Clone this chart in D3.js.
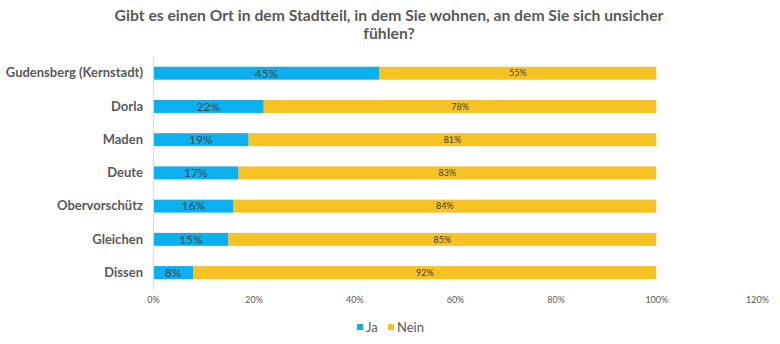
<!DOCTYPE html>
<html>
<head>
<meta charset="utf-8">
<script src="https://cdn.jsdelivr.net/npm/d3@7"></script>
<style>
  body { margin: 0; background: #fff; }
  svg text { font-family: Lato, "Open Sans", sans-serif; }
</style>
</head>
<body>
<div id="chart"></div>
<script>
// data
var categories = ["Gudensberg (Kernstadt)", "Dorla", "Maden", "Deute", "Obervorschütz", "Gleichen", "Dissen"];
var ja = [45, 22, 19, 17, 16, 15, 8];
var nein = [55, 78, 81, 83, 84, 85, 92];
var xTicks = [0, 20, 40, 60, 80, 100, 120];
var seriesNames = ["Ja", "Nein"];
var seriesColors = ["#0db0ee", "#f6c224"];
var titleLines = ["Gibt es einen Ort in dem Stadtteil, in dem Sie wohnen, an dem Sie sich unsicher", "fühlen?"];

function init() {
    var width = 780, height = 344;
    var grey = "#595959";

    var svg = d3.select("#chart")
        .append("svg")
        .attr("width", width)
        .attr("height", height);

    // title (two lines)
    svg.append("g").selectAll("text")
        .data(titleLines)
        .enter()
        .append("text")
        .attr("x", 389)
        .attr("y", (d, i) => 20.5 + i * 18.8)
        .attr("text-anchor", "middle")
        .style("font-size", "15.7px")
        .style("font-weight", "bold")
        .style("fill", grey)
        .text(d => d);

    var xScale = d3.scaleLinear()
        .domain([0, 120])
        .range([153, 757]);

    var yScale = d3.scaleBand()
        .domain(categories)
        .range([56.6, 289.2])
        .paddingInner(0.61)
        .paddingOuter(0.305);

    var rows = categories.map((c, i) => ({ cat: c, ja: ja[i], nein: nein[i] }));

    // Ja bars
    svg.append("g").selectAll("rect")
        .data(rows)
        .enter()
        .append("rect")
        .attr("x", xScale(0))
        .attr("y", d => yScale(d.cat))
        .attr("width", d => xScale(d.ja) - xScale(0))
        .attr("height", yScale.bandwidth())
        .style("fill", seriesColors[0]);

    // Nein bars
    svg.append("g").selectAll("rect")
        .data(rows)
        .enter()
        .append("rect")
        .attr("x", d => xScale(d.ja))
        .attr("y", d => yScale(d.cat))
        .attr("width", d => xScale(d.ja + d.nein) - xScale(d.ja))
        .attr("height", yScale.bandwidth())
        .style("fill", seriesColors[1]);

    // data labels
    svg.append("g").selectAll("text")
        .data(rows)
        .enter()
        .append("text")
        .attr("x", d => xScale(d.ja / 2))
        .attr("y", d => yScale(d.cat) + yScale.bandwidth() / 2)
        .attr("dy", "0.36em")
        .attr("text-anchor", "middle")
        .style("font-size", "12px")
        .style("fill", "#404040")
        .text(d => d.ja + "%");

    svg.append("g").selectAll("text")
        .data(rows)
        .enter()
        .append("text")
        .attr("x", d => xScale(d.ja + d.nein / 2))
        .attr("y", d => yScale(d.cat) + yScale.bandwidth() / 2)
        .attr("dy", "0.36em")
        .attr("text-anchor", "middle")
        .style("font-size", "9px")
        .style("fill", "#404040")
        .text(d => d.nein + "%");

    // y axis: thin line and category names
    var yAxis = svg.append("g")
        .attr("transform", `translate(${xScale(0)},0)`)
        .call(d3.axisLeft(yScale).tickSize(0).tickPadding(10));
    yAxis.select(".domain").attr("stroke", "#d9d9d9");
    yAxis.selectAll("text")
        .style("font-family", "Lato, sans-serif")
        .style("font-size", "13px")
        .style("font-weight", "bold")
        .style("fill", grey);

    // x axis labels only
    var xAxis = svg.append("g")
        .attr("transform", "translate(0,290)")
        .call(d3.axisBottom(xScale).tickValues(xTicks).tickSize(0).tickPadding(7).tickFormat(d => d + "%"));
    xAxis.select(".domain").remove();
    xAxis.selectAll("text")
        .style("font-family", "Lato, sans-serif")
        .style("font-size", "9px")
        .style("fill", grey);

    // legend
    var legendX = [357, 388];
    var legend = svg.append("g").selectAll("g")
        .data(seriesNames)
        .enter()
        .append("g")
        .attr("transform", (d, i) => `translate(${legendX[i]},327)`);
    legend.append("rect")
        .attr("x", 0)
        .attr("y", -3)
        .attr("width", 6)
        .attr("height", 6)
        .style("fill", (d, i) => seriesColors[i]);
    legend.append("text")
        .attr("x", 9)
        .attr("dy", "0.35em")
        .style("font-size", "13px")
        .style("fill", grey)
        .text(d => d);
}

window.onload = init;
</script>
</body>
</html>
